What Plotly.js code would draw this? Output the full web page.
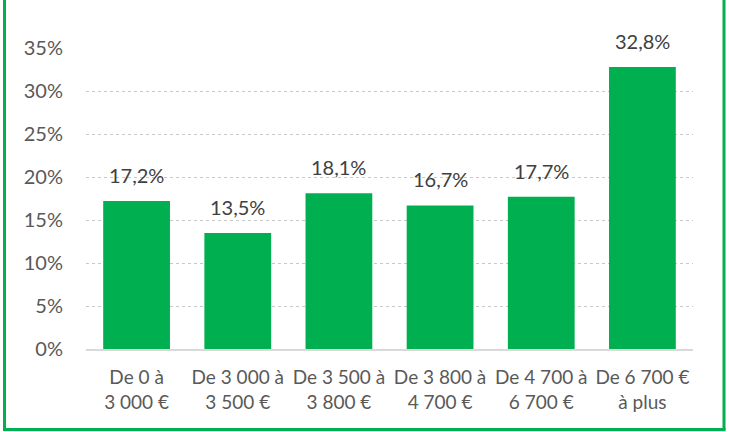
<!DOCTYPE html>
<html>
<head>
<meta charset="utf-8">
<script src="https://cdn.plot.ly/plotly-3.0.1.min.js"></script>
<style>html,body{margin:0;padding:0;background:#fff;}#chart{width:729px;height:432px;}</style>
</head>
<body>
<div id="chart"></div>
<script>
const categories = ["De 0 à<br>3 000 €", "De 3 000 à<br>3 500 €", "De 3 500 à<br>3 800 €", "De 3 800 à<br>4 700 €", "De 4 700 à<br>6 700 €", "De 6 700 €<br>à plus"];
const values = [0.172, 0.135, 0.181, 0.167, 0.177, 0.328];
const yTickVals = [0, 0.05, 0.10, 0.15, 0.20, 0.25, 0.30, 0.35];

const W = 729, H = 432;
const mL = 86, mR = 36, mT = 48, mB = 83;
const pw = W - mL - mR, ph = H - mT - mB;
const px2x = p => (p - mL) / pw;
const py2y = p => (H - mB - p) / ph;

const green = '#00b050';
const fontFam = 'Lato, "Open Sans", sans-serif';

const trace = {
  type: 'bar',
  x: categories,
  y: values,
  marker: {color: green},
  width: 0.66,
  hoverinfo: 'none'
};

const annotations = categories.map((c, i) => ({
  x: c, y: values[i], xref: 'x', yref: 'y',
  text: (values[i] * 100).toFixed(1).replace('.', ',') + '%',
  showarrow: false, yanchor: 'bottom', yshift: 12,
  font: {family: fontFam, size: 20, color: '#404040'}
}));

const borderColor = green;
const shapes = [
  {type: 'line', xref: 'paper', yref: 'paper', x0: px2x(4.5), x1: px2x(4.5), y0: py2y(-2), y1: py2y(430), line: {color: borderColor, width: 3}},
  {type: 'line', xref: 'paper', yref: 'paper', x0: px2x(724), x1: px2x(724), y0: py2y(-2), y1: py2y(430), line: {color: borderColor, width: 3}},
  {type: 'line', xref: 'paper', yref: 'paper', x0: px2x(3), x1: px2x(725.5), y0: py2y(429.5), y1: py2y(429.5), line: {color: borderColor, width: 3}}
];

const layout = {
  width: W, height: H,
  margin: {l: mL, r: mR, t: mT, b: mB, pad: 0},
  paper_bgcolor: '#fff', plot_bgcolor: '#fff',
  showlegend: false,
  separators: ', ',
  font: {family: fontFam, size: 19, color: '#595959'},
  xaxis: {
    type: 'category',
    showgrid: false, zeroline: false,
    showline: true, linecolor: '#d9d9d9', linewidth: 1.5,
    ticks: '', ticklabelstandoff: 11,
    tickfont: {family: fontFam, size: 19, color: '#595959'},
    fixedrange: true
  },
  yaxis: {
    range: [0, 0.35],
    tickvals: yTickVals,
    tickformat: '.0%',
    showgrid: true, gridcolor: '#c8c8c8', griddash: 'dot', gridwidth: 1,
    zeroline: false, showline: false,
    ticks: '', ticklabelstandoff: 22,
    tickfont: {family: fontFam, size: 20, color: '#595959'},
    fixedrange: true
  },
  bargap: 0.34,
  annotations: annotations,
  shapes: shapes
};

Plotly.newPlot('chart', [trace], layout, {displayModeBar: false, staticPlot: true});
</script>
</body>
</html>
